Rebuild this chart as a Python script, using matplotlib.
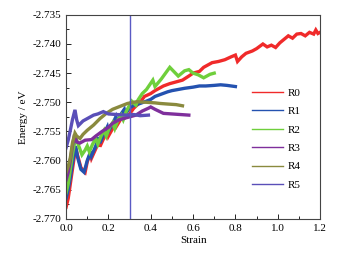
import numpy as np
import matplotlib
matplotlib.use("Agg")
import matplotlib.pyplot as plt
from matplotlib.lines import Line2D
from matplotlib.ticker import MultipleLocator

plt.rcParams['font.family'] = ['Liberation Serif', 'DejaVu Serif']
plt.rcParams['font.size'] = 8

# Данные
labels = ['R0', 'R1', 'R2', 'R3', 'R4', 'R5']
colors = ['#f02a2a', '#2452b0', '#6fcf3c', '#7f2f9c', '#8a8a3e', '#5a4fb8']

r0_x = [0.0, 0.01, 0.02, 0.03, 0.045, 0.055, 0.07, 0.09, 0.1, 0.115, 0.12, 0.14, 0.155, 0.16, 0.18,
        0.195, 0.2, 0.22, 0.235, 0.24, 0.26, 0.275, 0.28, 0.3, 0.32, 0.35, 0.37, 0.4, 0.42, 0.44,
        0.46, 0.49, 0.52, 0.55, 0.58, 0.6, 0.63, 0.65, 0.67, 0.69, 0.72, 0.75, 0.78, 0.8, 0.81,
        0.83, 0.85, 0.88, 0.9, 0.93, 0.95, 0.97, 0.99, 1.01, 1.03, 1.05, 1.07, 1.09, 1.11, 1.13,
        1.15, 1.17, 1.18, 1.19, 1.2]
r0_y = [-2.7680, -2.7665, -2.7640, -2.7615, -2.7578, -2.7592, -2.7612, -2.7620, -2.7602, -2.7588,
        -2.7596, -2.7580, -2.7566, -2.7576, -2.7560, -2.7548, -2.7558, -2.7545, -2.7532, -2.7540,
        -2.7528, -2.7518, -2.7526, -2.7520, -2.7510, -2.7500, -2.7490, -2.7485, -2.7480, -2.7476,
        -2.7472, -2.7468, -2.7465, -2.7462, -2.7455, -2.7450, -2.7447, -2.7440, -2.7436, -2.7432,
        -2.7430, -2.7427, -2.7422, -2.7419, -2.7430, -2.7422, -2.7416, -2.7412, -2.7408, -2.7400,
        -2.7405, -2.7402, -2.7406, -2.7398, -2.7392, -2.7386, -2.7390, -2.7383, -2.7382, -2.7386,
        -2.7380, -2.7383, -2.7376, -2.7382, -2.7380]

r1_x = [0.0, 0.01, 0.02, 0.03, 0.045, 0.055, 0.07, 0.085, 0.1, 0.115, 0.12, 0.14, 0.155, 0.16,
        0.18, 0.195, 0.2, 0.22, 0.235, 0.24, 0.26, 0.275, 0.28, 0.3, 0.32, 0.35, 0.38, 0.4, 0.42,
        0.45, 0.48, 0.5, 0.53, 0.56, 0.6, 0.63, 0.66, 0.7, 0.73, 0.76, 0.8]
r1_y = [-2.7665, -2.7650, -2.7630, -2.7605, -2.7575, -2.7595, -2.7615, -2.7620, -2.7600, -2.7585,
        -2.7592, -2.7575, -2.7560, -2.7570, -2.7553, -2.7542, -2.7550, -2.7537, -2.7525, -2.7533,
        -2.7520, -2.7512, -2.7520, -2.7510, -2.7505, -2.7502, -2.7498, -2.7495, -2.7490, -2.7486,
        -2.7482, -2.7480, -2.7478, -2.7476, -2.7474, -2.7472, -2.7472, -2.7471, -2.7470, -2.7471,
        -2.7473]

r2_x = [0.0, 0.01, 0.02, 0.03, 0.045, 0.055, 0.075, 0.09, 0.1, 0.11, 0.125, 0.14, 0.15, 0.165,
        0.18, 0.19, 0.205, 0.22, 0.23, 0.245, 0.26, 0.27, 0.285, 0.3, 0.31, 0.33, 0.34, 0.36,
        0.38, 0.41, 0.42, 0.45, 0.49, 0.53, 0.56, 0.58, 0.6, 0.625, 0.65, 0.68, 0.7]
r2_y = [-2.7655, -2.7640, -2.7615, -2.7590, -2.7560, -2.7570, -2.7590, -2.7582, -2.7575, -2.7585,
        -2.7572, -2.7562, -2.7572, -2.7558, -2.7548, -2.7558, -2.7543, -2.7535, -2.7545, -2.7530,
        -2.7522, -2.7530, -2.7515, -2.7505, -2.7498, -2.7505, -2.7496, -2.7485, -2.7478, -2.7462,
        -2.7473, -2.7460, -2.7440, -2.7455, -2.7446, -2.7444, -2.7450, -2.7453, -2.7458, -2.7452,
        -2.7450]

r3_x = [0.0, 0.01, 0.02, 0.03, 0.04, 0.05, 0.065, 0.09, 0.12, 0.14, 0.17, 0.2, 0.22, 0.25,
        0.29, 0.33, 0.36, 0.39, 0.4, 0.42, 0.46, 0.5, 0.54, 0.58]
r3_y = [-2.7633, -2.7620, -2.7600, -2.7575, -2.7555, -2.7568, -2.7570, -2.7565, -2.7564, -2.7558,
        -2.7550, -2.7543, -2.7536, -2.7530, -2.7526, -2.7522, -2.7515, -2.7510, -2.7508, -2.7512,
        -2.7519, -2.7520, -2.7521, -2.7522]

r4_x = [0.0, 0.01, 0.02, 0.03, 0.042, 0.05, 0.066, 0.08, 0.1, 0.13, 0.16, 0.19, 0.22, 0.255,
        0.29, 0.334, 0.38, 0.42, 0.444, 0.48, 0.52, 0.55]
r4_y = [-2.7620, -2.7610, -2.7595, -2.7570, -2.7553, -2.7558, -2.7562, -2.7555, -2.7548, -2.7539,
        -2.7528, -2.7519, -2.7512, -2.7507, -2.7502, -2.7499, -2.7500, -2.7501, -2.7502, -2.7503,
        -2.7504, -2.7506]

r5_x = [0.0, 0.01, 0.02, 0.03, 0.042, 0.05, 0.058, 0.08, 0.1, 0.13, 0.15, 0.176, 0.2, 0.24,
        0.287, 0.32, 0.35, 0.389]
r5_y = [-2.7578, -2.7565, -2.7548, -2.7530, -2.7513, -2.7530, -2.7540, -2.7532, -2.7528, -2.7522,
        -2.7520, -2.7516, -2.7520, -2.7521, -2.7522, -2.7521, -2.7523, -2.7522]

series_x = [r0_x, r1_x, r2_x, r3_x, r4_x, r5_x]
series_y = [r0_y, r1_y, r2_y, r3_y, r4_y, r5_y]

strain_mark = 0.3

# График
fig = plt.figure(figsize=(3.46, 2.56), dpi=100)
ax = fig.add_axes([0.191, 0.145, 0.734, 0.797])

for xs, ys, c in zip(series_x, series_y, colors):
    ax.plot(xs, ys, color=c, lw=2.4, solid_joinstyle='miter')

ax.axvline(strain_mark, color='#5a5ac4', lw=1.0)

ax.set_xlim(0, 1.2)
ax.set_ylim(-2.770, -2.735)
ax.xaxis.set_major_locator(MultipleLocator(0.2))
ax.xaxis.set_minor_locator(MultipleLocator(0.1))
ax.yaxis.set_major_locator(MultipleLocator(0.005))
ax.yaxis.set_minor_locator(MultipleLocator(0.0025))
ax.yaxis.set_major_formatter(plt.FormatStrFormatter('%.3f'))
ax.xaxis.set_major_formatter(plt.FormatStrFormatter('%.1f'))
ax.tick_params(which='both', direction='in', colors='#222222', labelcolor='black', width=0.7)
ax.tick_params(which='major', length=3.5)
ax.tick_params(which='minor', length=2)
for s in ax.spines.values():
    s.set_color('#444444')
    s.set_linewidth(0.8)

ax.set_xlabel('Strain', labelpad=2)
ax.set_ylabel('Energy / eV', labelpad=3)

handles = [Line2D([0], [0], color=c, lw=1.0) for c in colors]
ax.legend(handles, labels, loc='center left', bbox_to_anchor=(0.732, 0.392), frameon=False,
          borderpad=0, borderaxespad=0, handlelength=2.8, handletextpad=0.4, labelspacing=0.78)

fig.savefig("out.png", dpi=100)
